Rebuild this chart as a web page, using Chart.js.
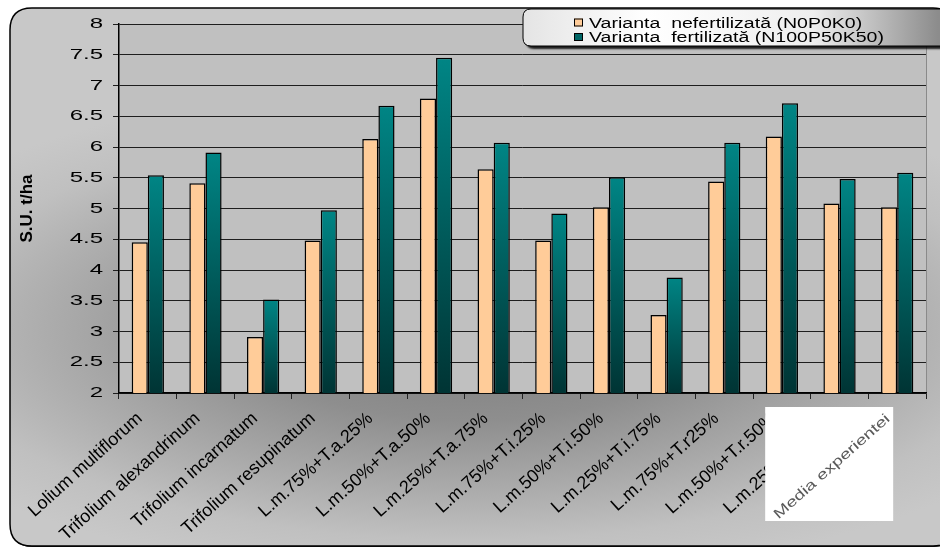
<!DOCTYPE html>
<html>
<head>
<meta charset="utf-8">
<script src="https://cdn.jsdelivr.net/npm/chart.js@4.4.1/dist/chart.umd.min.js"></script>
<style>
  html, body { margin: 0; padding: 0; background: #ffffff; }
  #wrap { width: 940px; height: 550px; position: relative; }
</style>
</head>
<body>
<div id="wrap"><canvas id="chart" width="940" height="550"></canvas></div>
<script>
// Dry matter yield (S.U. t/ha) per sown variant
const categories = [
  'Lolium multiflorum',
  'Trifolium alexandrinum',
  'Trifolium incarnatum',
  'Trifolium resupinatum',
  'L.m.75%+T.a.25%',
  'L.m.50%+T.a.50%',
  'L.m.25%+T.a.75%',
  'L.m.75%+T.i.25%',
  'L.m.50%+T.i.50%',
  'L.m.25%+T.i.75%',
  'L.m.75%+T.r25%',
  'L.m.50%+T.r.50%',
  'L.m.25%+T.r.75%',
  'Media experientei'
];
const seriesNames = [
  'Varianta  nefertilizată (N0P0K0)',
  'Varianta  fertilizată (N100P50K50)'
];
const nefertilizata = [4.45, 5.41, 2.91, 4.48, 6.13, 6.79, 5.64, 4.48, 5.02, 3.27, 5.44, 6.17, 5.08, 5.02];
const fertilizata   = [5.54, 5.91, 3.52, 4.97, 6.67, 7.45, 6.07, 4.92, 5.51, 3.88, 6.07, 6.71, 5.48, 5.58];
const yTickLabels = ['2', '2.5', '3', '3.5', '4', '4.5', '5', '5.5', '6', '6.5', '7', '7.5', '8'];
const yTitle = 'S.U. t/ha';

const FONT = "'Liberation Sans', Arial, Helvetica, sans-serif";
const LAST = categories.length - 1;

function roundRectPath(ctx, x, y, w, h, r) {
  ctx.beginPath();
  ctx.moveTo(x + r, y);
  ctx.lineTo(x + w - r, y);
  ctx.quadraticCurveTo(x + w, y, x + w, y + r);
  ctx.lineTo(x + w, y + h - r);
  ctx.quadraticCurveTo(x + w, y + h, x + w - r, y + h);
  ctx.lineTo(x + r, y + h);
  ctx.quadraticCurveTo(x, y + h, x, y + h - r);
  ctx.lineTo(x, y + r);
  ctx.quadraticCurveTo(x, y, x + r, y);
  ctx.closePath();
}

// Teal bars: bright at the top of each bar, dark at its base
function tealFill(c) {
  const chart = c.chart;
  const { ctx, chartArea, scales } = chart;
  if (!chartArea || c.raw == null || !scales.y) return '#006060';
  const top = scales.y.getPixelForValue(c.raw);
  const base = scales.y.getPixelForValue(scales.y.min);
  const g = ctx.createLinearGradient(0, top, 0, base);
  g.addColorStop(0, '#008585');
  g.addColorStop(1, '#003434');
  return g;
}

// Rounded frame with a centre-dark gradient and the grey plot area
const framePlugin = {
  id: 'frame',
  beforeDraw(chart) {
    const { ctx, chartArea: a } = chart;
    ctx.save();
    ctx.fillStyle = '#ffffff';
    ctx.fillRect(0, 0, chart.width, chart.height);

    roundRectPath(ctx, 11, 9, 945, 538, 22);
    ctx.fillStyle = '#1a1a1a';
    ctx.fill();

    ctx.save();
    roundRectPath(ctx, 10, 8, 945, 538, 22);
    ctx.clip();
    ctx.translate(470, 330);
    ctx.scale(2.6, 1);
    const g = ctx.createRadialGradient(0, 0, 0, 0, 0, 250);
    g.addColorStop(0, '#7c7c7c');
    g.addColorStop(0.36, '#8e8e8e');
    g.addColorStop(0.84, '#c0c0c0');
    g.addColorStop(1, '#c8c8c8');
    ctx.fillStyle = g;
    ctx.fillRect(-300, -400, 600, 800);
    ctx.restore();

    roundRectPath(ctx, 10, 8, 945, 538, 22);
    ctx.lineWidth = 1.5;
    ctx.strokeStyle = '#000000';
    ctx.stroke();

    ctx.fillStyle = '#c0c0c0';
    ctx.fillRect(a.left, a.top, a.right - a.left, a.bottom - a.top);
    ctx.strokeStyle = '#8a8a8a';
    ctx.lineWidth = 1;
    ctx.beginPath();
    ctx.moveTo(a.right + 0.5, a.top);
    ctx.lineTo(a.right + 0.5, a.bottom);
    ctx.stroke();
    ctx.restore();
  }
};

// Wide value labels beside the y axis ticks
const yLabelPlugin = {
  id: 'yLabels',
  afterDraw(chart) {
    const { ctx } = chart;
    const ys = chart.scales.y;
    ctx.save();
    ctx.font = '15px ' + FONT;
    ctx.fillStyle = '#000000';
    ctx.textAlign = 'right';
    ctx.textBaseline = 'middle';
    ys.ticks.forEach((t, i) => {
      const y = ys.getPixelForValue(t.value);
      ctx.save();
      ctx.translate(ys.right - 16, y);
      ctx.scale(1.6, 1);
      ctx.fillText(yTickLabels[i], 0, 0);
      ctx.restore();
    });
    ctx.restore();
  }
};

// Label of the last category on its own white patch
const mediaLabelPlugin = {
  id: 'mediaLabel',
  afterDraw(chart) {
    const { ctx, scales } = chart;
    const xs = scales.x;
    const x = xs.getPixelForValue(LAST);
    const y = xs.top;
    ctx.save();
    ctx.fillStyle = '#ffffff';
    ctx.fillRect(x - 132, y + 14, 128, 114);
    ctx.translate(x - 9, y + 24);
    ctx.rotate(-41.6 * Math.PI / 180);
    ctx.font = '14px ' + FONT;
    ctx.fillStyle = '#5a5a5a';
    ctx.textAlign = 'right';
    ctx.textBaseline = 'middle';
    const w = ctx.measureText(categories[LAST]).width;
    ctx.scale(150 / w, 1);
    ctx.fillText(categories[LAST], 0, 0);
    ctx.restore();
  }
};

// Legend box in the top right corner
const legendPlugin = {
  id: 'boxLegend',
  afterDraw(chart) {
    const { ctx } = chart;
    const x = 523, y = 9, w = 425, h = 37;
    ctx.save();
    ctx.shadowColor = 'rgba(0,0,0,0.85)';
    ctx.shadowOffsetX = 3;
    ctx.shadowOffsetY = 3;
    ctx.shadowBlur = 2;
    roundRectPath(ctx, x, y, w, h, 8);
    const g = ctx.createLinearGradient(x, 0, 938, 0);
    g.addColorStop(0, '#e4e4e4');
    g.addColorStop(0.3, '#ffffff');
    g.addColorStop(0.7, '#eeeeee');
    g.addColorStop(1, '#8c8c8c');
    ctx.fillStyle = g;
    ctx.fill();
    ctx.shadowColor = 'transparent';
    ctx.lineWidth = 1;
    ctx.strokeStyle = '#000000';
    ctx.stroke();

    const ds = chart.data.datasets;
    const rows = [22.5, 37];
    ds.forEach((d, i) => {
      const cy = rows[i];
      ctx.fillStyle = i === 0 ? d.backgroundColor : '#006666';
      ctx.fillRect(574, cy - 4, 9, 8);
      ctx.strokeStyle = '#000000';
      ctx.lineWidth = 1;
      ctx.strokeRect(574.5, cy - 3.5, 8, 7);
      ctx.save();
      ctx.translate(589, cy);
      ctx.scale(1.26, 1);
      ctx.font = '15.5px ' + FONT;
      ctx.fillStyle = '#000000';
      ctx.textAlign = 'left';
      ctx.textBaseline = 'middle';
      ctx.fillText(d.label, 0, 1);
      ctx.restore();
    });
    ctx.restore();
  }
};

new Chart(document.getElementById('chart'), {
  type: 'bar',
  data: {
    labels: categories,
    datasets: [
      {
        label: seriesNames[0],
        data: nefertilizata,
        backgroundColor: '#ffcc99',
        borderColor: '#000000',
        borderWidth: 1.5
      },
      {
        label: seriesNames[1],
        data: fertilizata,
        backgroundColor: tealFill,
        borderColor: '#000000',
        borderWidth: 1.5
      }
    ]
  },
  options: {
    responsive: false,
    animation: false,
    devicePixelRatio: 1,
    layout: { padding: { left: 14, top: 24, right: 14, bottom: 0 } },
    datasets: { bar: { categoryPercentage: 0.56, barPercentage: 1 } },
    plugins: { legend: { display: false }, tooltip: { enabled: false } },
    scales: {
      x: {
        grid: { offset: true, drawOnChartArea: false, color: '#222222', tickLength: 6 },
        border: { color: '#000000', width: 1.5 },
        ticks: {
          autoSkip: false,
          minRotation: 42,
          maxRotation: 42,
          padding: 9,
          labelOffset: -8,
          color: (c) => (c.index === LAST ? 'rgba(0,0,0,0)' : '#000000'),
          font: { family: FONT, size: 18 }
        },
        afterFit(s) { s.height = 157; }
      },
      y: {
        min: 2,
        max: 8,
        ticks: {
          stepSize: 0.5,
          padding: 8,
          color: 'rgba(0,0,0,0)',
          font: { family: FONT, size: 15 },
          callback: (v, i) => yTickLabels[i]
        },
        grid: { color: '#1e1e1e', tickLength: 6, lineWidth: 1 },
        border: { color: '#000000', width: 1.5 },
        title: {
          display: true,
          text: yTitle,
          color: '#000000',
          font: { family: FONT, size: 17, weight: 'bold' },
          padding: { top: 3, bottom: 0 }
        },
        afterFit(s) { s.width = 105; }
      }
    }
  },
  plugins: [framePlugin, yLabelPlugin, mediaLabelPlugin, legendPlugin]
});
</script>
</body>
</html>
